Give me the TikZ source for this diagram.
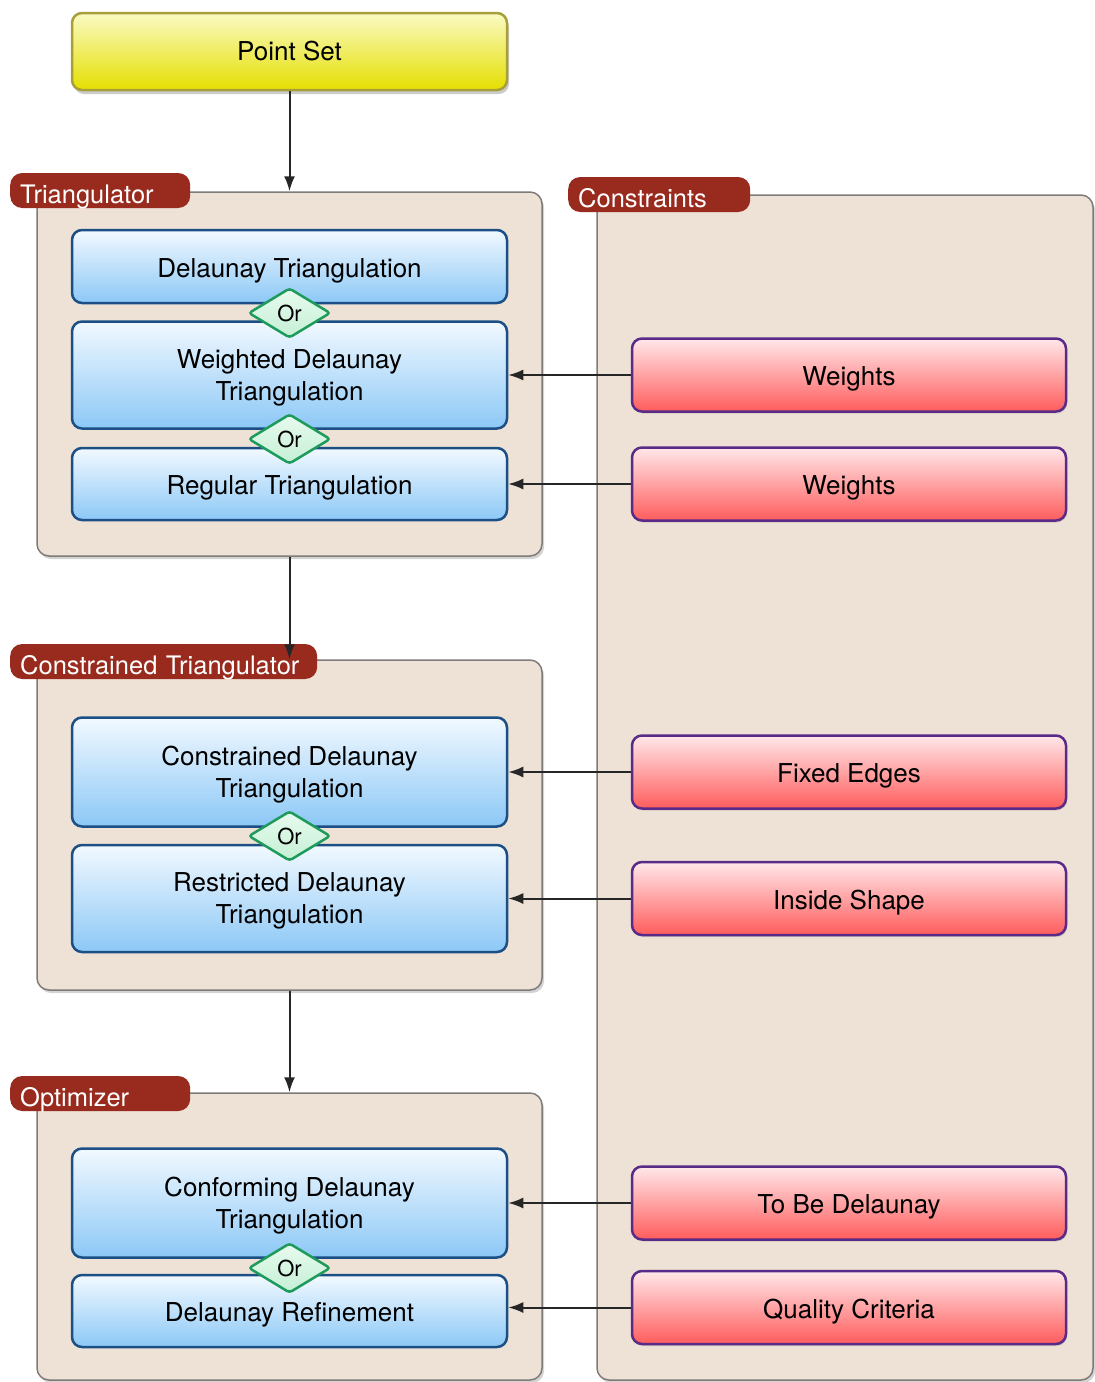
\documentclass[tikz,border=0pt]{standalone}
\usepackage{fontspec}
\setmainfont{TeX Gyre Heros}
\usepackage{xcolor}
\usetikzlibrary{shapes.geometric,arrows.meta,shadows}

\definecolor{groupfill}{HTML}{EDE2D5}
\definecolor{groupline}{HTML}{7E7B78}
\definecolor{tabfill}{HTML}{992B1E}
\definecolor{bluetop}{HTML}{F2F9FF}
\definecolor{bluebot}{HTML}{8CC8F6}
\definecolor{blueline}{HTML}{1B4F86}
\definecolor{redtop}{HTML}{FFE8EA}
\definecolor{redbot}{HTML}{FF5C5C}
\definecolor{redline}{HTML}{5A2A88}
\definecolor{ortop}{HTML}{E8FBEF}
\definecolor{orbot}{HTML}{C4EFD5}
\definecolor{orline}{HTML}{1E9A5A}
\definecolor{yeltop}{HTML}{FAFAC4}
\definecolor{yelbot}{HTML}{E5DF00}
\definecolor{yelline}{HTML}{A79F3A}

\begin{document}
\begin{tikzpicture}[x=1pt,y=-1pt,
group_node/.style={rectangle,rounded corners=12pt,draw=groupline,line width=1.5pt,fill=groupfill,inner sep=0pt,
  drop shadow={shadow xshift=2pt,shadow yshift=-3pt,opacity=0.35}},
tab_node/.style={rectangle,rounded corners=12pt,fill=tabfill,text=white,anchor=west,align=left,
  inner xsep=10pt,minimum height=35pt,text height=25pt,text depth=0pt,font=\fontsize{25.5}{30}\selectfont},
blue_node/.style={rectangle,rounded corners=10pt,draw=blueline,line width=2.5pt,top color=bluetop,bottom color=bluebot,
  minimum width=435pt,align=center,text depth=0pt,font=\fontsize{26}{32}\selectfont},
one_line/.style={text height=21pt},
red_node/.style={rectangle,rounded corners=10pt,draw=redline,line width=2.5pt,top color=redtop,bottom color=redbot,
  minimum width=434pt,minimum height=73pt,text height=21pt,text depth=0pt,font=\fontsize{26}{32}\selectfont,
  drop shadow={shadow xshift=1pt,shadow yshift=-2pt,opacity=0.25}},
or_node/.style={diamond,rounded corners=3pt,draw=orline,line width=2.5pt,top color=ortop,bottom color=orbot,inner sep=0pt,
  minimum width=82pt,minimum height=50pt,font=\fontsize{22}{26}\selectfont},
point_node/.style={rectangle,rounded corners=10pt,draw=yelline,line width=2.5pt,top color=yeltop,bottom color=yelbot,
  minimum width=435pt,minimum height=77pt,font=\fontsize{26}{32}\selectfont,
  drop shadow={shadow xshift=2pt,shadow yshift=-4pt,opacity=0.4}},
flow/.style={every edge/.style={draw=black!85,line width=2pt,-{Latex[length=15pt,width=11pt]}}}]

\useasboundingbox (0,0) rectangle (1095,1382);

% groups
\node[group_node,minimum width=505pt,minimum height=364pt] (tri) at (289.5,374) {};
\node[group_node,minimum width=505pt,minimum height=330pt] (ctri) at (289.5,825) {};
\node[group_node,minimum width=505pt,minimum height=287pt] (opt) at (289.5,1236.5) {};
\node[group_node,minimum width=496pt,minimum height=1185pt] (cons) at (845,787.5) {};

\node[tab_node,text width=160pt] (tri_tab) at (10,190.5) {Triangulator};
\node[tab_node,text width=287pt] (ctri_tab) at (10,661.5) {Constrained Triangulator};
\node[tab_node,text width=160pt] (opt_tab) at (10,1093.5) {Optimizer};
\node[tab_node,text width=162pt] (cons_tab) at (568,194.5) {Constraints};

% input
\node[point_node] (ps) at (289.5,51.5) {Point Set};

% triangulator
\node[blue_node,one_line,minimum height=73pt] (dt) at (289.5,266.5) {Delaunay Triangulation};
\node[blue_node,minimum height=107pt] (wdt) at (289.5,375) {Weighted Delaunay\\Triangulation};
\node[blue_node,one_line,minimum height=72pt] (rt) at (289.5,484) {Regular Triangulation};
\node[or_node] (or1) at (289.5,313) {Or};
\node[or_node] (or2) at (289.5,439) {Or};

% constrained triangulator
\node[blue_node,minimum height=109pt] (cdt) at (289.5,772) {Constrained Delaunay\\Triangulation};
\node[blue_node,minimum height=107pt] (rdt) at (289.5,898.5) {Restricted Delaunay\\Triangulation};
\node[or_node] (or3) at (289.5,836) {Or};

% optimizer
\node[blue_node,minimum height=109pt] (cfdt) at (289.5,1203) {Conforming Delaunay\\Triangulation};
\node[blue_node,one_line,minimum height=72pt] (dr) at (289.5,1311) {Delaunay Refinement};
\node[or_node] (or4) at (289.5,1268) {Or};

% constraints
\node[red_node] (w1) at (849,375) {Weights};
\node[red_node] (w2) at (849,484) {Weights};
\node[red_node] (fe) at (849,772) {Fixed Edges};
\node[red_node] (is) at (849,898.5) {Inside Shape};
\node[red_node] (tbd) at (849,1203) {To Be Delaunay};
\node[red_node] (qc) at (849,1307.5) {Quality Criteria};

\path[flow]
(ps) edge (tri.north)
(tri) edge (ctri.north)
(ctri) edge (opt.north)
(w1) edge (wdt)
(w2) edge (rt)
(fe) edge (cdt)
(is) edge (rdt)
(tbd) edge (cfdt)
(qc.west) edge (qc.west -| dr.east)
;

\end{tikzpicture}
\end{document}
